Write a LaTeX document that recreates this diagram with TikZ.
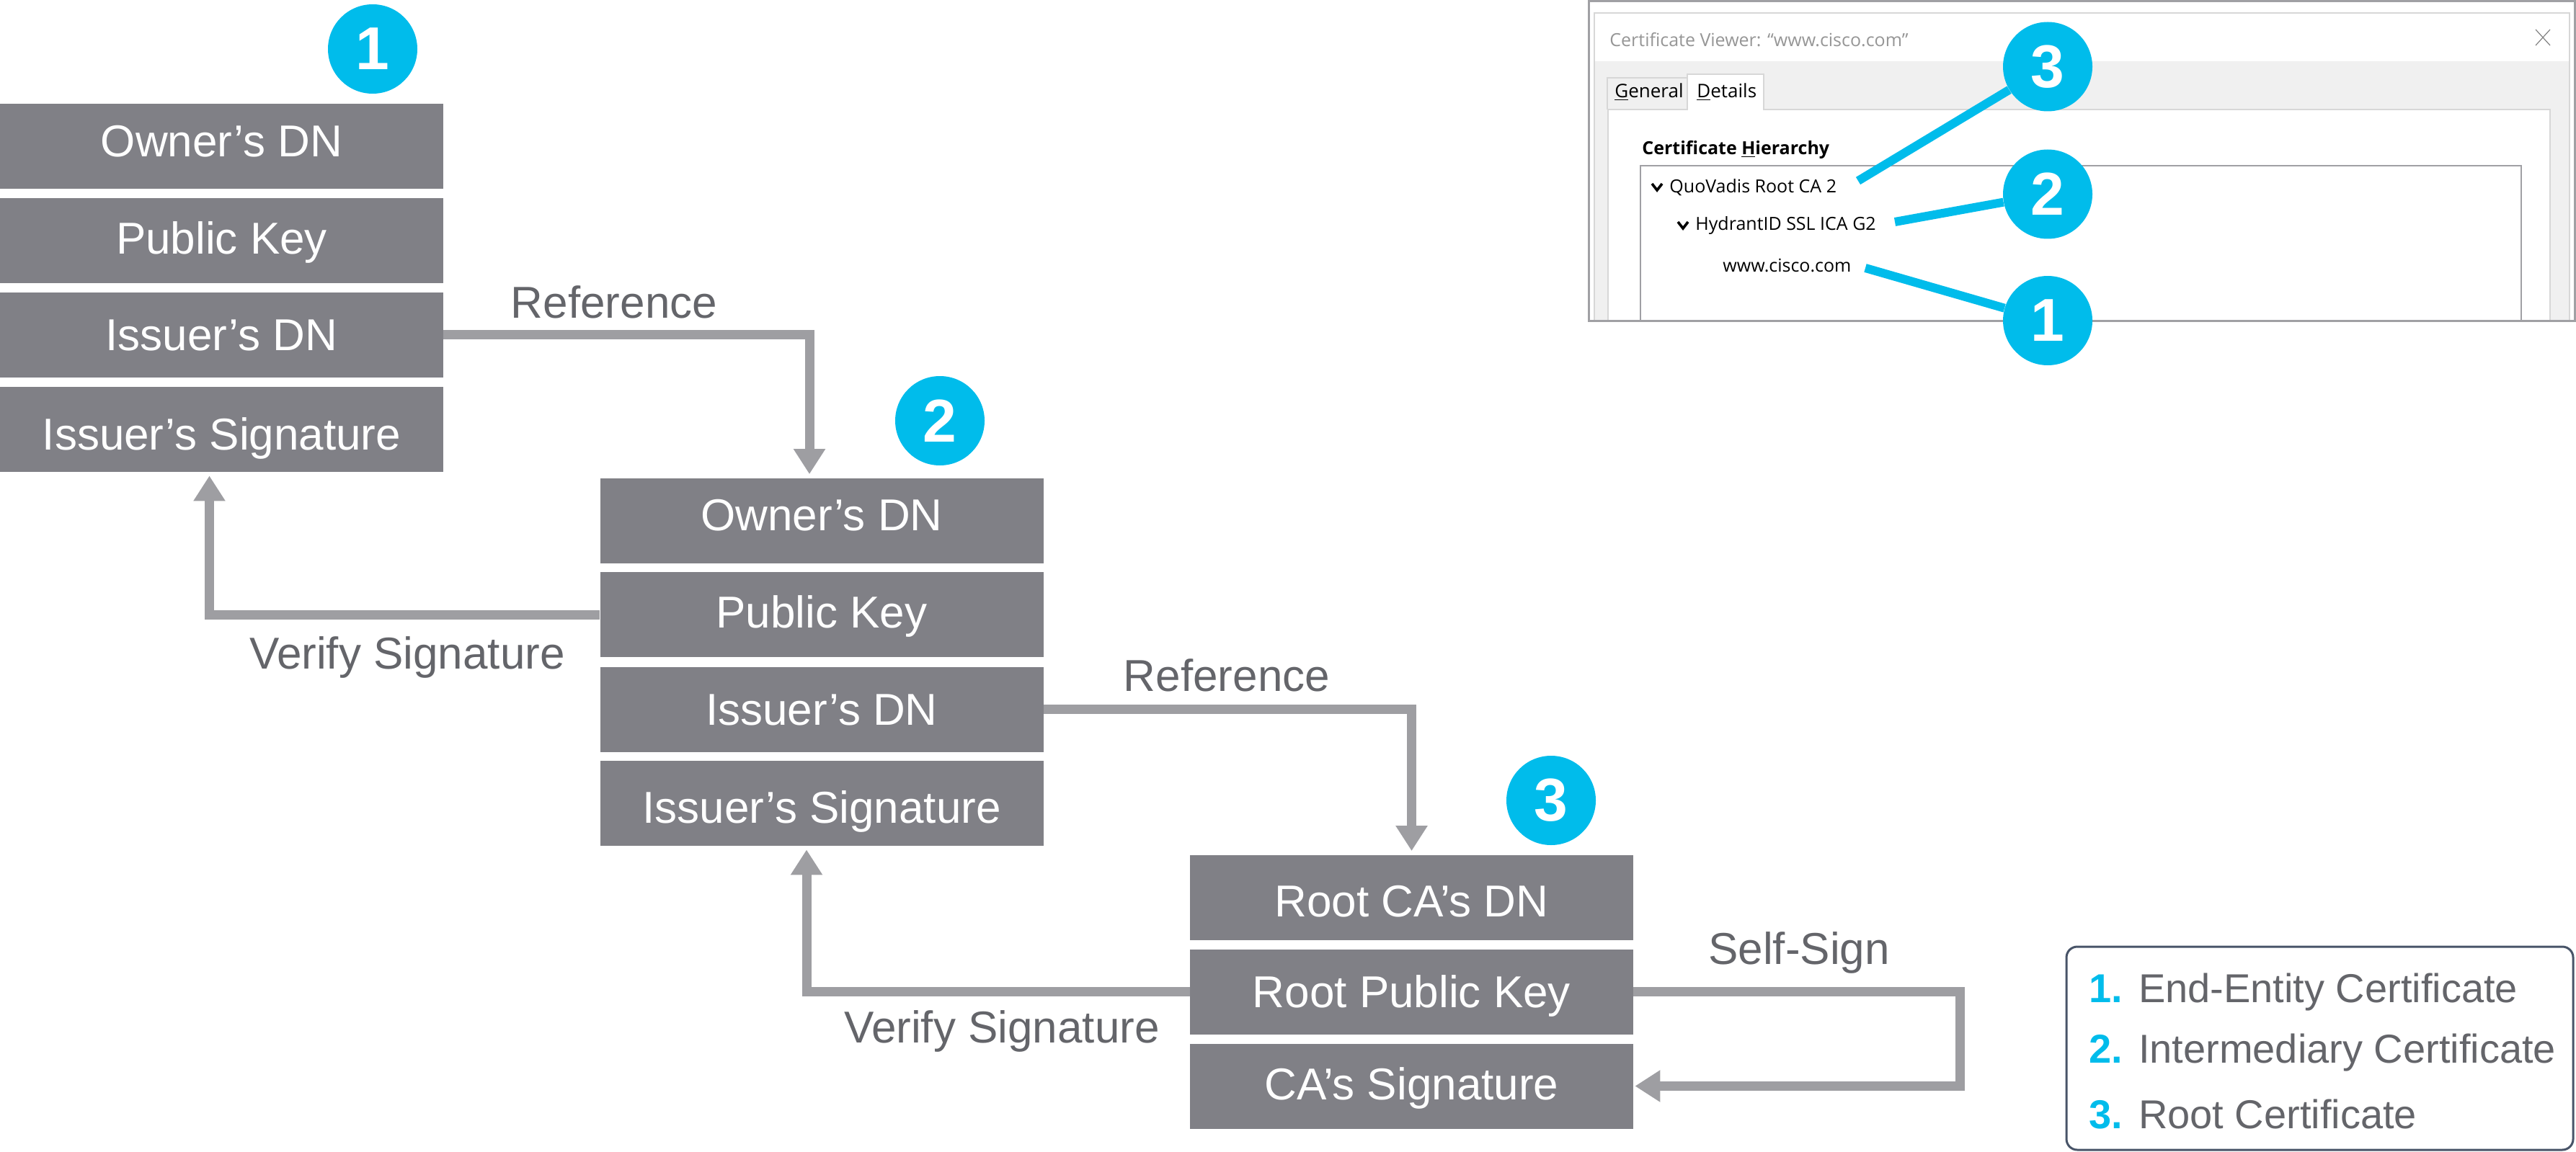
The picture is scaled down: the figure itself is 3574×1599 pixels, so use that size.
\documentclass[tikz,border=0pt]{standalone}
\usepackage{fontspec}
\setmainfont{Liberation Sans}
\newfontfamily\uifont{Open Sans}
\usetikzlibrary{arrows.meta}
\definecolor{boxgray}{RGB}{128,128,134}
\definecolor{linegray}{RGB}{158,158,162}
\definecolor{labelgray}{RGB}{100,101,106}
\definecolor{cbcyan}{RGB}{0,188,235}
\definecolor{legborder}{RGB}{72,84,104}
\definecolor{framegray}{RGB}{160,160,164}
\definecolor{wingray}{RGB}{240,240,240}
\definecolor{edgegray}{RGB}{215,215,215}
\definecolor{titlegray}{RGB}{150,150,150}
\definecolor{closegray}{RGB}{130,130,130}
\tikzset{
  rowbox/.style={fill=boxgray, text=white, minimum width=307.5pt, minimum height=59pt, inner sep=0pt,
    text height=22.2pt, text depth=0pt, font=\fontsize{31}{36}\selectfont},
  rowup/.style={text depth=#1},
  rowdown/.style={text height=#1},
  lbl/.style={text=labelgray, inner sep=0pt, font=\fontsize{31}{36}\selectfont},
  numcirc/.style={circle, fill=cbcyan, text=white, minimum size=62pt, inner sep=0pt, font=\fontsize{42}{42}\selectfont\bfseries},
  conn/.style={draw=linegray, line width=6.5pt, -{Triangle[width=21pt,length=17.5pt]}, shorten >=2.5pt},
  callout/.style={draw=cbcyan, line width=6pt},
  uitext/.style={anchor=west, inner sep=0pt, font=\uifont\fontsize{12.5}{15}\selectfont},
  chev/.style={draw=black, line width=1.8pt},
  legtext/.style={anchor=west, inner sep=0pt, text=labelgray, font=\fontsize{28}{32}\selectfont}
}
\begin{document}
\begin{tikzpicture}[x=0.5pt,y=-0.5pt]
\useasboundingbox (0,0) rectangle (3574,1599);

% ---------- certificate 1 ----------
\node[rowbox, rowup=8pt] (a1) at (307.5,203) {Owner’s DN};
\node[rowbox, rowup=3.5pt] (a2) at (307.5,334) {Public Key};
\node[rowbox] (a3) at (307.5,464.5) {Issuer’s DN};
\node[rowbox, rowdown=28pt] (a4) at (307.5,596) {Issuer’s Signature};
\node[numcirc] (n1) at (517,68) {1};

% ---------- certificate 2 ----------
\node[rowbox, rowup=8pt] (b1) at (1140,722.5) {Owner’s DN};
\node[rowbox, rowup=3.5pt] (b2) at (1140,853) {Public Key};
\node[rowbox] (b3) at (1140,984.5) {Issuer’s DN};
\node[rowbox, rowdown=27.5pt] (b4) at (1140,1115) {Issuer’s Signature};
\node[numcirc] (n2) at (1304,584) {2};

% ---------- certificate 3 ----------
\node[rowbox, rowdown=27pt] (c1) at (1958.5,1245.5) {Root CA’s DN};
\node[rowbox] (c2) at (1958.5,1376.5) {Root Public Key};
\node[rowbox, rowup=3.5pt] (c3) at (1958.5,1507.5) {CA’s Signature};
\node[numcirc] (n3) at (2152,1111) {3};

% ---------- connectors ----------
\draw[conn] (a3.east) -| ([xshift=-8.5pt]b1.north);
\draw[conn] (b2.west) -| ([xshift=-8.5pt]a4.south);
\draw[conn] (b3.east) -| (c1.north);
\draw[conn] (c2.west) -| ([xshift=-10.5pt]b4.south);
\coordinate (ss) at (2719,1376.5);
\draw[conn, shorten >=1pt] (c2.east) -- (ss) |- (c3.east);

\node[lbl] (r1) at (852,419) {Reference};
\node[lbl] (r2) at (1702,937) {Reference};
\node[lbl] (v1) at (565,912) {Verify Signature};
\node[lbl] (v2) at (1390,1431) {Verify Signature};
\node[lbl] (s1) at (2496,1322) {Self-Sign};

% ---------- screenshot ----------
\fill[white] (2204.5,1.5) rectangle (3572.5,445.5);
\fill[wingray] (2212,85) rectangle (3565,445);
\draw[edgegray, line width=0.6pt] (2212,445) -- (2212,18) -- (3565,18) -- (3565,445);
\fill[white, draw=edgegray, line width=0.6pt] (2231,445) -- (2231,152) -- (3538,152) -- (3538,445);
\draw[edgegray, line width=0.6pt] (2230,152) -- (2230,108) -- (2341,108);
\fill[white, draw=edgegray, line width=0.6pt] (2341,153) -- (2341,103) -- (2447,103) -- (2447,153);
\node[uitext, text=titlegray, font=\uifont\fontsize{12.5}{15}\selectfont] (title) at (2233,55) {Certificate Viewer: “www.cisco.com”};
\draw[closegray, line width=0.6pt] (3518,41) -- (3538,63) (3518,63) -- (3538,41);
\node[uitext, font=\uifont\fontsize{13}{15}\selectfont] (tg) at (2240,128) {\underline{G}eneral};
\node[uitext, font=\uifont\fontsize{13}{15}\selectfont] (td) at (2354,128) {\underline{D}etails};
\node[uitext, font=\uifont\bfseries\fontsize{12.5}{15}\selectfont] (ch) at (2278,208) {Certificate \underline{H}ierarchy};
\draw[framegray, line width=1pt] (2276,445) -- (2276,230) -- (3498,230) -- (3498,445);
\draw[chev] (2292,255) -- (2299,264) -- (2306,255);
\draw[chev] (2328,308) -- (2335,317) -- (2342,308);
\node[uitext] (t3) at (2316,260) {QuoVadis Root CA 2};
\node[uitext] (t2) at (2352,313) {HydrantID SSL ICA G2};
\node[uitext] (t1) at (2390,369) {www.cisco.com};
\draw[framegray, line width=1.8pt] (2204.5,1.5) rectangle (3572.5,445.5);

\coordinate (e3) at (2578,251);
\coordinate (e2) at (2629,308);
\coordinate (e1) at (2588,372);
\node[numcirc] (m3) at (2841,92.5) {3};
\node[numcirc] (m2) at (2841,269.5) {2};
\node[numcirc] (m1) at (2841,445) {1};
\draw[callout] (e3) -- (m3);
\draw[callout] (e2) -- (m2);
\draw[callout] (e1) -- (m1);

% ---------- legend ----------
\draw[legborder, line width=1.5pt, rounded corners=7.5pt] (2867,1314) rectangle (3570,1596);
\node[legtext] (l1) at (2898,1377) {\textcolor{cbcyan}{\bfseries 1.}\hspace{11pt}End-Entity Certificate};
\node[legtext] (l2) at (2898,1461) {\textcolor{cbcyan}{\bfseries 2.}\hspace{11pt}Intermediary Certificate};
\node[legtext] (l3) at (2898,1547) {\textcolor{cbcyan}{\bfseries 3.}\hspace{11pt}Root Certificate};
\end{tikzpicture}
\end{document}
